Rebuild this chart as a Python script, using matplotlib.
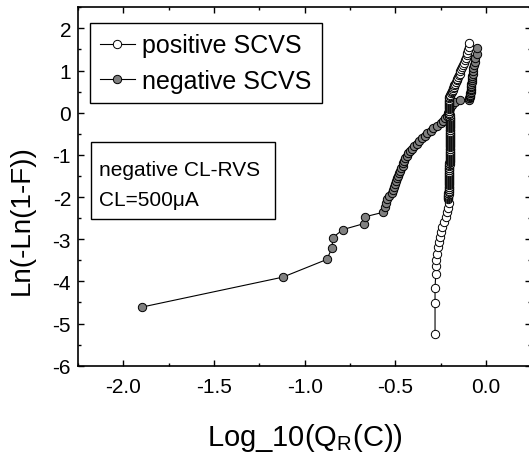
import matplotlib
matplotlib.use("Agg")
import matplotlib.pyplot as plt
from matplotlib.ticker import MultipleLocator
from matplotlib.patches import Rectangle

plt.rcParams['font.family'] = ['Liberation Sans', 'DejaVu Sans']
plt.rcParams['axes.unicode_minus'] = False
plt.rcParams['mathtext.default'] = 'regular'

# positive SCVS (open circles), bottom -> top
# lower tail
pos_x_low = [-0.281, -0.281, -0.281, -0.277, -0.276, -0.273, -0.270, -0.264, -0.258,
             -0.254, -0.248, -0.241, -0.232, -0.223, -0.214, -0.209, -0.206]
pos_y_low = [-5.25, -4.52, -4.15, -3.83, -3.64, -3.50, -3.34, -3.18, -3.06,
             -2.95, -2.83, -2.71, -2.59, -2.47, -2.36, -2.25, -2.15]
# dense vertical column
pos_x_mid = [-0.207, -0.207, -0.208, -0.207, -0.207, -0.206, -0.207, -0.206, -0.206, -0.206,
             -0.206, -0.205, -0.206, -0.205, -0.205, -0.205, -0.204, -0.205, -0.204, -0.204,
             -0.204, -0.204, -0.203, -0.204, -0.203, -0.203, -0.203, -0.202, -0.203, -0.202,
             -0.202, -0.202, -0.202, -0.201, -0.202, -0.201, -0.201, -0.201, -0.201, -0.200,
             -0.200, -0.201, -0.200, -0.200, -0.200, -0.199, -0.200, -0.199, -0.199, -0.199,
             -0.199, -0.199, -0.198, -0.199, -0.198, -0.198, -0.198, -0.198, -0.199, -0.198,
             -0.198, -0.198, -0.199, -0.198, -0.199, -0.199, -0.199, -0.199, -0.200, -0.199,
             -0.200, -0.200, -0.200, -0.200, -0.201, -0.200, -0.201, -0.201, -0.201, -0.202,
             -0.201, -0.202, -0.202, -0.202, -0.203, -0.202, -0.203, -0.203, -0.203, -0.204,
             -0.204, -0.204, -0.205, -0.205, -0.205]
pos_y_mid = [-2.05, -2.02, -2.00, -1.97, -1.95, -1.92, -1.90, -1.87, -1.85, -1.82,
             -1.80, -1.77, -1.75, -1.72, -1.70, -1.67, -1.65, -1.62, -1.60, -1.57,
             -1.55, -1.52, -1.50, -1.47, -1.45, -1.42, -1.40, -1.37, -1.35, -1.32,
             -1.30, -1.27, -1.25, -1.22, -1.20, -1.17, -1.15, -1.12, -1.10, -1.07,
             -1.05, -1.02, -1.00, -0.97, -0.95, -0.92, -0.90, -0.87, -0.85, -0.82,
             -0.80, -0.77, -0.75, -0.72, -0.70, -0.67, -0.65, -0.62, -0.60, -0.57,
             -0.55, -0.52, -0.50, -0.47, -0.45, -0.42, -0.40, -0.37, -0.35, -0.32,
             -0.30, -0.27, -0.25, -0.22, -0.20, -0.17, -0.15, -0.12, -0.10, -0.07,
             -0.05, -0.02, 0.00, 0.03, 0.05, 0.08, 0.10, 0.13, 0.15, 0.18,
             0.20, 0.23, 0.25, 0.28, 0.31]
# upper diagonal
pos_x_top = [-0.205, -0.202, -0.199, -0.196, -0.193, -0.190, -0.187, -0.184, -0.181, -0.178,
             -0.174, -0.170, -0.166, -0.162, -0.158, -0.154, -0.150, -0.146, -0.141, -0.136,
             -0.131, -0.126, -0.121, -0.116, -0.111, -0.107, -0.103, -0.099, -0.096, -0.092]
pos_y_top = [0.34, 0.37, 0.40, 0.43, 0.46, 0.49, 0.52, 0.55, 0.58, 0.61,
             0.65, 0.69, 0.73, 0.77, 0.81, 0.85, 0.89, 0.93, 0.98, 1.03,
             1.08, 1.13, 1.18, 1.24, 1.30, 1.36, 1.42, 1.48, 1.55, 1.66]

# negative SCVS (grey filled circles), bottom -> top
neg_x = [-1.898, -1.121, -0.878, -0.849, -0.845, -0.788, -0.673, -0.669, -0.566,
         -0.557, -0.551, -0.545, -0.533, -0.520, -0.511, -0.507, -0.502, -0.498,
         -0.492, -0.486, -0.480, -0.474, -0.466, -0.459, -0.456, -0.451, -0.447,
         -0.438, -0.428, -0.418, -0.410, -0.396, -0.382, -0.368, -0.352, -0.336,
         -0.324, -0.306, -0.290, -0.270, -0.250, -0.238, -0.226, -0.215, -0.208,
         -0.204, -0.198, -0.189, -0.170, -0.143,
         -0.092, -0.091, -0.090, -0.088, -0.087, -0.086, -0.085, -0.084, -0.083,
         -0.082, -0.081, -0.080, -0.079, -0.078, -0.077, -0.076, -0.074, -0.072,
         -0.070, -0.067, -0.063, -0.058, -0.052, -0.047]
neg_y = [-4.61, -3.90, -3.48, -3.21, -2.96, -2.77, -2.63, -2.47, -2.36,
         -2.24, -2.14, -2.05, -1.97, -1.90, -1.83, -1.76, -1.69, -1.63,
         -1.56, -1.50, -1.44, -1.38, -1.32, -1.26, -1.20, -1.14, -1.08,
         -1.02, -0.96, -0.91, -0.86, -0.80, -0.74, -0.67, -0.61, -0.56,
         -0.49, -0.43, -0.37, -0.31, -0.25, -0.19, -0.13, -0.07, -0.01,
         0.05, 0.11, 0.18, 0.25, 0.30,
         0.31, 0.34, 0.37, 0.40, 0.43, 0.46, 0.49, 0.53, 0.56,
         0.60, 0.64, 0.68, 0.72, 0.77, 0.82, 0.87, 0.93, 0.99,
         1.06, 1.13, 1.21, 1.29, 1.39, 1.53]

pos_x = pos_x_low + pos_x_mid + pos_x_top
pos_y = pos_y_low + pos_y_mid + pos_y_top

fig = plt.figure(figsize=(5.29, 4.56), dpi=100)
ax = fig.add_axes([0.1474, 0.1958, 0.857, 0.786])

l_neg, = ax.plot(neg_x, neg_y, '-o', color='black', lw=0.8, ms=6,
                 mfc='#808080', mec='black', mew=0.7, label='negative SCVS')
l_pos, = ax.plot(pos_x, pos_y, '-o', color='black', lw=0.8, ms=6,
                 mfc='white', mec='black', mew=0.7, label='positive SCVS')

ax.set_xlim(-2.25, 0.25)
ax.set_ylim(-6, 2.5)
ax.xaxis.set_minor_locator(MultipleLocator(0.25))
ax.yaxis.set_major_locator(MultipleLocator(1))
ax.yaxis.set_minor_locator(MultipleLocator(0.5))
ax.set_xticks([-2.0, -1.5, -1.0, -0.5, 0.0])
ax.set_xticklabels(['-2.0', '-1.5', '-1.0', '-0.5', '0.0'])
ax.tick_params(which='both', direction='in', top=True, right=True,
               labelsize=15, width=1)
ax.tick_params(which='major', length=4, pad=5)
ax.tick_params(which='minor', length=2.5)
ax.tick_params(axis='x', which='major', pad=8)
for s in ax.spines.values():
    s.set_linewidth(1.2)

ax.set_xlabel('Log_10(Q$_{R}$(C))', fontsize=21, labelpad=18)
ax.set_ylabel('Ln(-Ln(1-F))', fontsize=20)
ax.yaxis.set_label_coords(-0.095, 0.409)

leg = ax.legend(handles=[l_pos, l_neg], loc='upper left',
                bbox_to_anchor=(0.0265, 0.955), borderaxespad=0,
                fontsize=18, handlelength=1.4, handletextpad=0.3,
                labelspacing=0.45, borderpad=0.4, fancybox=False,
                edgecolor='black', framealpha=1)
leg.get_frame().set_linewidth(1.0)

# annotation box
ax.add_patch(Rectangle((0.0287, 0.4093), 0.4059, 0.2149, transform=ax.transAxes,
                       fc='white', ec='black', lw=1.0, zorder=4))
ax.text(0.0463, 0.5488, 'negative CL-RVS', transform=ax.transAxes,
        fontsize=15, va='center', ha='left', zorder=5)
ax.text(0.0463, 0.4651, 'CL=500\u03bcA', transform=ax.transAxes,
        fontsize=15, va='center', ha='left', zorder=5)

fig.savefig('out.png', dpi=100)
